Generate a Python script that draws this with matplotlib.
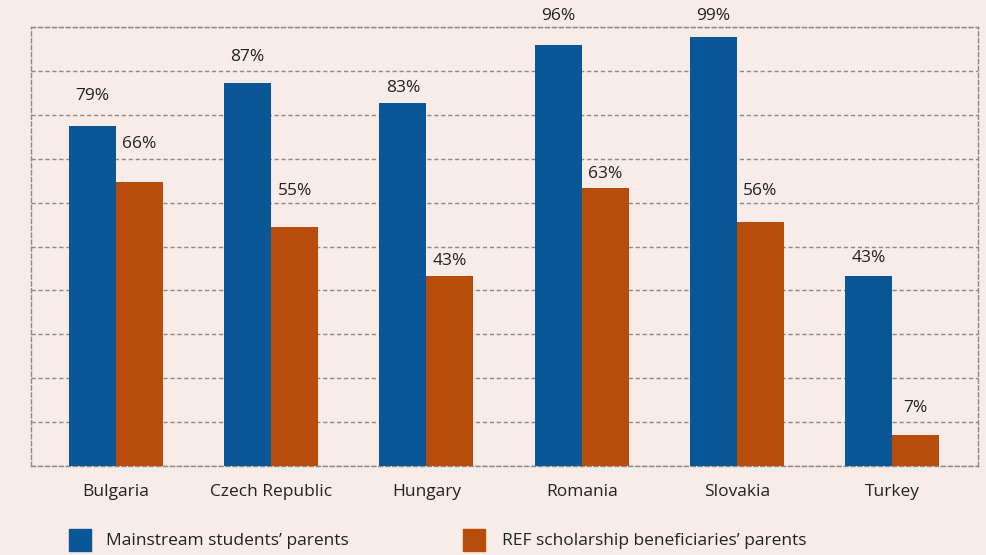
import matplotlib
matplotlib.use("Agg")
import matplotlib.pyplot as plt
from matplotlib.patches import Rectangle
from matplotlib.transforms import offset_copy
import numpy as np

categories = ["Bulgaria", "Czech Republic", "Hungary", "Romania", "Slovakia", "Turkey"]
# printed labels
mainstream_labels = [79, 87, 83, 96, 99, 43]
ref_labels = [66, 55, 43, 63, 56, 7]
# bar heights as drawn in the picture
mainstream = [77.4, 87.2, 82.7, 95.9, 97.7, 43.3]
ref_benef = [64.7, 54.4, 43.3, 63.3, 55.6, 7.1]
series_names = ["Mainstream students\u2019 parents", "REF scholarship beneficiaries\u2019 parents"]

# label offsets above bar tops (pixels, label centre)
off_main = [30, 26, 15, 29, 21, 18]
off_ref = [38, 36, 15, 14, 31, 27]

BG = "#f7ece7"
BLUE = "#0a5798"
ORANGE = "#b84c0a"
GRID = "#8f8986"
TXT = "#222222"
plt.rcParams['font.family'] = ['Open Sans', 'DejaVu Sans']
FS = 12.5

W, H = 986, 555
fig = plt.figure(figsize=(W / 100, H / 100), dpi=100, facecolor=BG)
left, right, top, bottom = 31, 978, 27, 466
ax = fig.add_axes([left / W, 1 - bottom / H, (right - left) / W, (bottom - top) / H])
ax.set_facecolor(BG)

x = np.arange(len(categories))
bw = 0.303
ax.bar(x - bw / 2, mainstream, width=bw, color=BLUE, zorder=3)
ax.bar(x + bw / 2, ref_benef, width=bw, color=ORANGE, zorder=3)
ax.set_xlim(-0.548, 5.554)
ax.set_ylim(0, 100)
ax.set_yticks(np.arange(0, 101, 10))
ax.yaxis.grid(True, linestyle=(0, (3, 2)), color=GRID, linewidth=1.0, zorder=0)
ax.set_yticklabels([])
ax.tick_params(axis='both', length=0)
ax.set_xticks(x)
ax.set_xticklabels(categories, fontsize=FS, color=TXT)
ax.tick_params(axis='x', pad=13)
for s in ['left', 'right', 'top', 'bottom']:
    ax.spines[s].set_linestyle((0, (3, 2)))
    ax.spines[s].set_color(GRID)
    ax.spines[s].set_linewidth(1.0)

for i in range(len(categories)):
    t = offset_copy(ax.transData, fig=fig, x=0, y=off_main[i], units='dots')
    ax.text(x[i] - bw / 2, mainstream[i], f"{mainstream_labels[i]}%", transform=t,
            ha='center', va='center', fontsize=FS, color=TXT)
    t = offset_copy(ax.transData, fig=fig, x=0, y=off_ref[i], units='dots')
    ax.text(x[i] + bw / 2, ref_benef[i], f"{ref_labels[i]}%", transform=t,
            ha='center', va='center', fontsize=FS, color=TXT)

# legend
for (sx, tx, col, name) in [(69, 106, BLUE, series_names[0]), (463, 502, ORANGE, series_names[1])]:
    fig.patches.append(Rectangle((sx / W, 1 - 551 / H), 22 / W, 22 / H,
                                 transform=fig.transFigure, color=col))
    fig.text(tx / W, 1 - 541 / H, name, ha='left', va='center', fontsize=FS, color=TXT)

fig.savefig("out.png", dpi=100, facecolor=BG)
